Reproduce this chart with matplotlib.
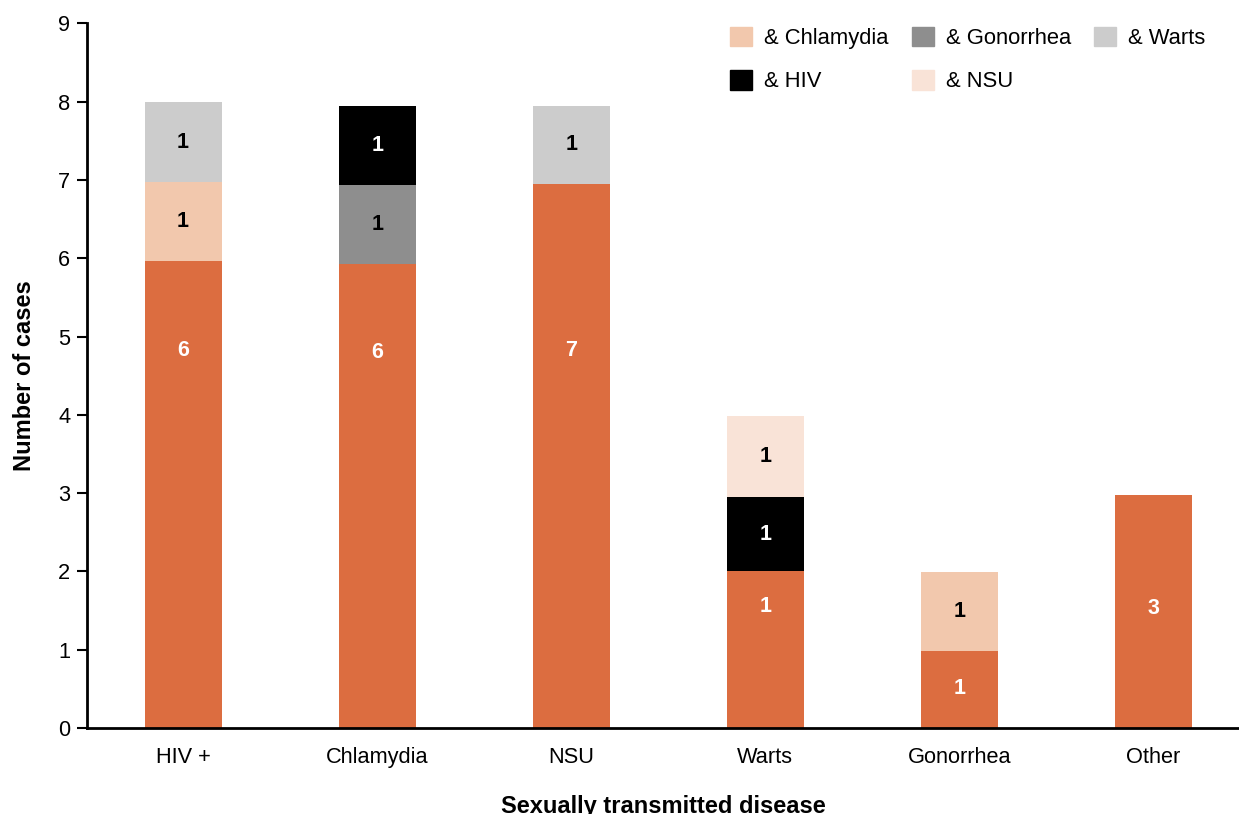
import matplotlib.pyplot as plt
import numpy as np
from matplotlib.patches import Patch

plt.rcParams['font.family'] = ['Liberation Sans', 'DejaVu Sans']

# categories on the x axis
diseases = ['HIV +', 'Chlamydia', 'NSU', 'Warts', 'Gonorrhea', 'Other']

# heights of each stacked segment
base = [5.96, 5.93, 6.95, 2.0, 0.98, 2.98]
chlamydia = [1.01, 0, 0, 0, 1.01, 0]
gonorrhea = [0, 1.01, 0, 0, 0, 0]
warts = [1.03, 0, 1.0, 0, 0, 0]
hiv = [0, 1.01, 0, 0.95, 0, 0]
nsu = [0, 0, 0, 1.03, 0, 0]

# text shown inside the segments (as printed on the chart)
base_lbl = ['6', '6', '7', '1', '1', '3']
base_lbl_y = [4.82, 4.8, 4.82, 1.55, 0.5, 1.52]
chlamydia_lbl = ['1', '', '', '', '1', '']
gonorrhea_lbl = ['', '1', '', '', '', '']
warts_lbl = ['1', '', '1', '', '', '']
hiv_lbl = ['', '1', '', '1', '', '']
nsu_lbl = ['', '', '', '1', '', '']

c_base = '#DC6D40'
c_chla = '#F2C8AD'
c_gono = '#8E8E8E'
c_warts = '#CCCCCC'
c_hiv = '#000000'
c_nsu = '#F9E3D7'

fig = plt.figure(figsize=(12.39, 8.14), dpi=100)
ax = fig.add_axes([0.0702, 0.1057, 0.9298, 0.8655])

x = np.arange(len(diseases))
w = 0.397

series = {
    'base': (base, base_lbl, c_base, 'white'),
    'chla': (chlamydia, chlamydia_lbl, c_chla, 'black'),
    'gono': (gonorrhea, gonorrhea_lbl, c_gono, 'black'),
    'hiv': (hiv, hiv_lbl, c_hiv, 'white'),
    'nsu': (nsu, nsu_lbl, c_nsu, 'black'),
    'warts': (warts, warts_lbl, c_warts, 'black'),
}
order = ['base', 'chla', 'gono', 'hiv', 'nsu', 'warts']

bottom = np.zeros(len(diseases))
for key in order:
    vals, lbls, col, tcol = series[key]
    vals = np.array(vals, dtype=float)
    ax.bar(x, vals, w, bottom=bottom, color=col, linewidth=0)
    for i in range(len(x)):
        if vals[i] > 0 and lbls[i]:
            if key == 'base':
                ty = base_lbl_y[i]
            else:
                ty = bottom[i] + vals[i] / 2
            ax.text(x[i], ty, lbls[i], ha='center', va='center',
                    color=tcol, fontsize=15.5, fontweight='bold')
    bottom = bottom + vals

ax.set_xlim(-0.495, 5.44)
ax.set_ylim(0, 9)
ax.set_yticks(range(0, 10))
ax.set_xticks(x)
ax.set_xticklabels(diseases)
ax.tick_params(axis='x', length=0, labelsize=15.7, pad=14)
ax.tick_params(axis='y', length=7, width=1.5, labelsize=15.7, pad=5)
for s in ['top', 'right']:
    ax.spines[s].set_visible(False)
for s in ['left', 'bottom']:
    ax.spines[s].set_linewidth(2)

ax.set_xlabel('Sexually transmitted disease', fontsize=17, fontweight='bold', labelpad=19)
ax.set_ylabel('Number of cases', fontsize=17, fontweight='bold', labelpad=16)

handles = [Patch(color=c_chla, label='& Chlamydia'), Patch(color=c_hiv, label='& HIV'),
           Patch(color=c_gono, label='& Gonorrhea'), Patch(color=c_nsu, label='& NSU'),
           Patch(color=c_warts, label='& Warts')]
fig.legend(handles=handles, ncol=3, loc='upper left', bbox_to_anchor=(0.5822, 0.978),
           frameon=False, fontsize=15.8, handlelength=1.0, handleheight=1.0,
           handletextpad=0.55, columnspacing=1.05, labelspacing=0.95, borderaxespad=0)

plt.savefig('out.png', dpi=100)
